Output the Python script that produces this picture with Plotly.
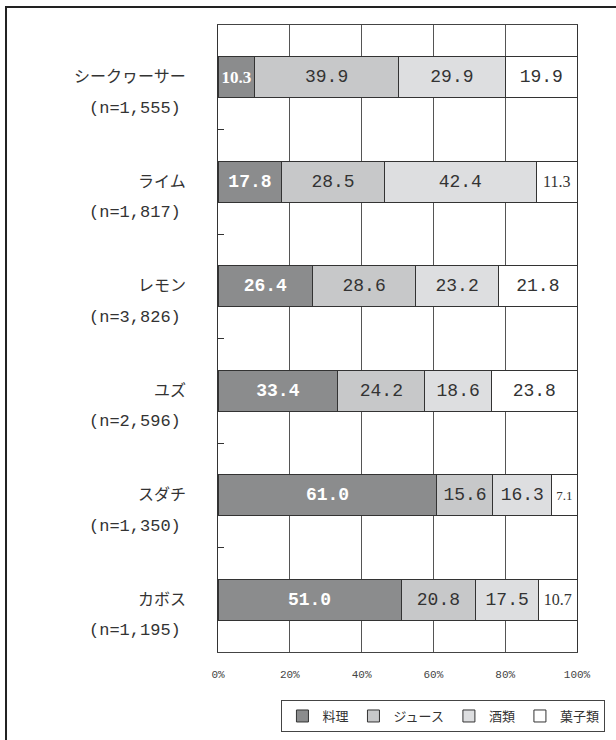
import plotly.graph_objects as go

categories = ["シークヮーサー", "ライム", "レモン", "ユズ", "スダチ", "カボス"]
sample_sizes = ["1,555", "1,817", "3,826", "2,596", "1,350", "1,195"]
series_names = ["料理", "ジュース", "酒類", "菓子類"]
cooking = [10.3, 17.8, 26.4, 33.4, 61.0, 51.0]
juice = [39.9, 28.5, 28.6, 24.2, 15.6, 20.8]
liquor = [29.9, 42.4, 23.2, 18.6, 16.3, 17.5]
sweets = [19.9, 11.3, 21.8, 23.8, 7.1, 10.7]
x_ticks = [0, 20, 40, 60, 80, 100]

series_values = [cooking, juice, liquor, sweets]
fills = ["#8b8c8d", "#c7c8c9", "#dddee0", "#ffffff"]

MONO = "Liberation Mono, DejaVu Sans Mono, monospace"
SERIF = "Liberation Serif, DejaVu Serif, serif"
JP = "Noto Sans CJK JP, sans-serif"

fig = go.Figure()
for i, (name, vals) in enumerate(zip(series_names, series_values)):
    dark = i == 0
    fam = [SERIF if v < 12 else MONO for v in vals]
    if dark:
        size = [17 if v < 12 else 18 for v in vals]
        tmpl = "<b>%{x:.1f}</b>"
        color = "#ffffff"
    else:
        size = [(16 if v >= 10 else 13) if v < 12 else 18 for v in vals]
        tmpl = "%{x:.1f}"
        color = "#333333"
    fig.add_trace(go.Bar(
        name=name,
        y=categories,
        x=vals,
        orientation="h",
        marker=dict(color=fills[i], line=dict(color="#333333", width=1)),
        texttemplate=tmpl,
        textposition="inside",
        insidetextanchor="middle",
        textangle=0,
        constraintext="none",
        textfont=dict(family=fam, size=size, color=color),
        hoverinfo="skip",
    ))

# category labels (two lines)
for cat, n in zip(categories, sample_sizes):
    fig.add_annotation(x=-0.083, xref="paper", y=cat, yref="y", text=cat,
                       showarrow=False, xanchor="right", yanchor="middle", yshift=2,
                       font=dict(family=JP, size=16, color="#333333"))
    fig.add_annotation(x=-0.097, xref="paper", y=cat, yref="y", text=f"(n={n})",
                       showarrow=False, xanchor="right", yanchor="middle", yshift=-31,
                       font=dict(family=MONO, size=17, color="#333333"))

# outer frame
fig.add_shape(type="rect", xref="paper", yref="paper",
              x0=-0.5905, x1=1.5, y0=-0.6, y1=1.0287,
              line=dict(color="#222222", width=2), fillcolor="rgba(0,0,0,0)")

fig.update_layout(
    width=616, height=740,
    margin=dict(l=218, r=39, t=25, b=88, autoexpand=False),
    paper_bgcolor="white", plot_bgcolor="white",
    barmode="stack", bargap=0.61,
    showlegend=True,
    legend=dict(orientation="h", x=0.628, xanchor="center", y=-0.0766, yanchor="top",
                bordercolor="#444444", borderwidth=1, bgcolor="white",
                font=dict(family=JP, size=13, color="#333333"),
                itemwidth=30, traceorder="normal"),
    xaxis=dict(range=[0, 100], tickvals=x_ticks, ticktext=[f"{v}%" for v in x_ticks],
               showgrid=True, gridcolor="#555555", gridwidth=1, zeroline=False,
               showline=True, linecolor="#444444", linewidth=1, mirror=True,
               ticks="", ticklabelstandoff=12,
               tickfont=dict(family=MONO, size=11, color="#444444")),
    yaxis=dict(autorange="reversed", showticklabels=False, showgrid=False,
               showline=True, linecolor="#333333", linewidth=1, mirror=True,
               ticks="inside", ticklen=6, tickcolor="#333333", tickson="boundaries"),
)

fig.write_html("out.html")
